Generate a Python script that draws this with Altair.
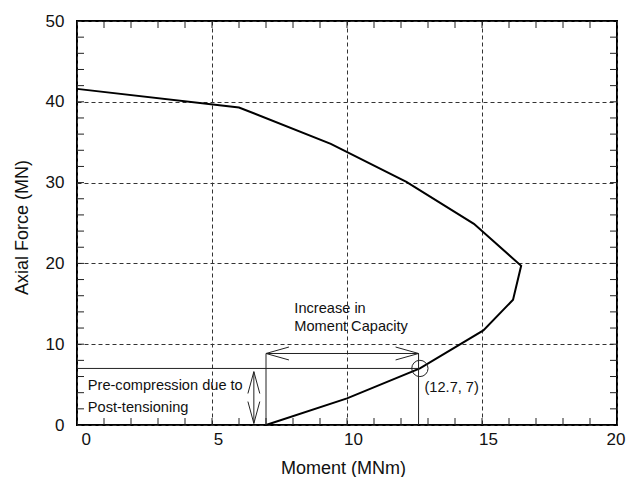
import altair as alt
import pandas as pd

# Interaction curve (Moment MNm, Axial force MN)
moment = [0, 6.0, 9.4, 12.2, 14.7, 16.45, 16.15, 15.05, 12.7, 10.0, 7.0]
axial = [41.6, 39.3, 34.8, 30.1, 24.9, 19.7, 15.5, 11.7, 7.0, 3.3, 0]

# Point of interest
pt_x = [12.7]
pt_y = [7.0]

# Annotation segments (x, y, x2, y2)
seg_x = [0, 12.65, 7.0, 7.0, 7.0, 7.0, 12.65, 12.65, 6.55, 6.55, 6.55, 6.55, 6.55]
seg_y = [7.0, 0, 0, 8.85, 8.85, 8.85, 8.85, 8.85, 0.2, 6.6, 6.6, 0.2, 0.2]
seg_x2 = [12.65, 12.65, 7.0, 12.65, 7.85, 7.85, 11.8, 11.8, 6.55, 6.33, 6.77, 6.33, 6.77]
seg_y2 = [7.0, 8.85, 8.85, 8.85, 9.65, 8.05, 9.65, 8.05, 6.6, 3.9, 3.9, 2.9, 2.9]

# Texts
txt = ["Increase in", "Moment Capacity", "Pre-compression due to", "Post-tensioning", "(12.7, 7)"]
txt_x = [8.05, 8.05, 0.4, 0.4, 12.87]
txt_y = [13.8, 11.6, 4.35, 1.65, 4.12]

# Minor ticks
xticks = list(range(1, 20))
yticks = list(range(2, 50, 2))

W, H = 540, 404
FONT = "Liberation Sans"

xs = alt.Scale(domain=[0, 20], nice=False, zero=False)
ys = alt.Scale(domain=[0, 50], nice=False, zero=False)

curve_df = pd.DataFrame({"m": moment, "p": axial, "o": list(range(len(moment)))})
seg_df = pd.DataFrame({"x": seg_x, "y": seg_y, "x2": seg_x2, "y2": seg_y2})
txt_df = pd.DataFrame({"t": txt, "x": txt_x, "y": txt_y})
pt_df = pd.DataFrame({"x": pt_x, "y": pt_y})
xt_df = pd.DataFrame({"v": xticks})
yt_df = pd.DataFrame({"v": yticks})

curve = alt.Chart(curve_df).mark_line(color="black", strokeWidth=2).encode(
    x=alt.X("m:Q", scale=xs, title="Moment (MNm)",
            axis=alt.Axis(values=[0, 5, 10, 15, 20], labelOffset=6, labelPadding=6,
                          labelFlush=True, labelFlushOffset=2,
                          titleY=48, titleBaseline="alphabetic", titleX=266)),
    y=alt.Y("p:Q", scale=ys, title="Axial Force (MN)",
            axis=alt.Axis(values=[0, 10, 20, 30, 40, 50], labelPadding=13,
                          titleX=-50, titleY=206, titleBaseline="alphabetic")),
    order="o:Q",
)

segs = alt.Chart(seg_df).mark_rule(color="#222", strokeWidth=1).encode(
    x=alt.X("x:Q", scale=xs), y=alt.Y("y:Q", scale=ys), x2="x2:Q", y2="y2:Q"
)

circle = alt.Chart(pt_df).mark_point(shape="circle", filled=False, color="#222",
                                     strokeWidth=1, size=265, opacity=1).encode(
    x=alt.X("x:Q", scale=xs), y=alt.Y("y:Q", scale=ys)
)

texts = alt.Chart(txt_df).mark_text(align="left", baseline="alphabetic",
                                    font=FONT, fontSize=14.6,
                                    color="#111").encode(
    x=alt.X("x:Q", scale=xs), y=alt.Y("y:Q", scale=ys), text="t:N"
)

tb = alt.Chart(xt_df).mark_rule(color="#222", strokeWidth=1).encode(
    x=alt.X("v:Q", scale=xs), y=alt.value(H), y2=alt.value(H - 7))
tt = alt.Chart(xt_df).mark_rule(color="#222", strokeWidth=1).encode(
    x=alt.X("v:Q", scale=xs), y=alt.value(0), y2=alt.value(7))
tl = alt.Chart(yt_df).mark_rule(color="#222", strokeWidth=1).encode(
    y=alt.Y("v:Q", scale=ys), x=alt.value(0), x2=alt.value(7))
tr = alt.Chart(yt_df).mark_rule(color="#222", strokeWidth=1).encode(
    y=alt.Y("v:Q", scale=ys), x=alt.value(W), x2=alt.value(W - 7))

chart = alt.layer(curve, segs, circle, texts, tb, tt, tl, tr).properties(
    width=W, height=H,
    autosize=alt.AutoSizeParams(type="none"),
    padding={"left": 69, "top": 13, "right": 9, "bottom": 52},
    background="white",
).configure_view(
    stroke="black", strokeWidth=2
).configure_axis(
    grid=True, gridDash=[4, 3], gridColor="#333", gridWidth=1, gridOpacity=1,
    ticks=False, domain=False,
    labelFont=FONT, labelFontSize=17, labelColor="#111",
    titleFont=FONT, titleFontSize=18, titleFontWeight="normal", titleColor="#111",
)

chart.save("out.html", embed_options={"renderer": "svg", "actions": False})
